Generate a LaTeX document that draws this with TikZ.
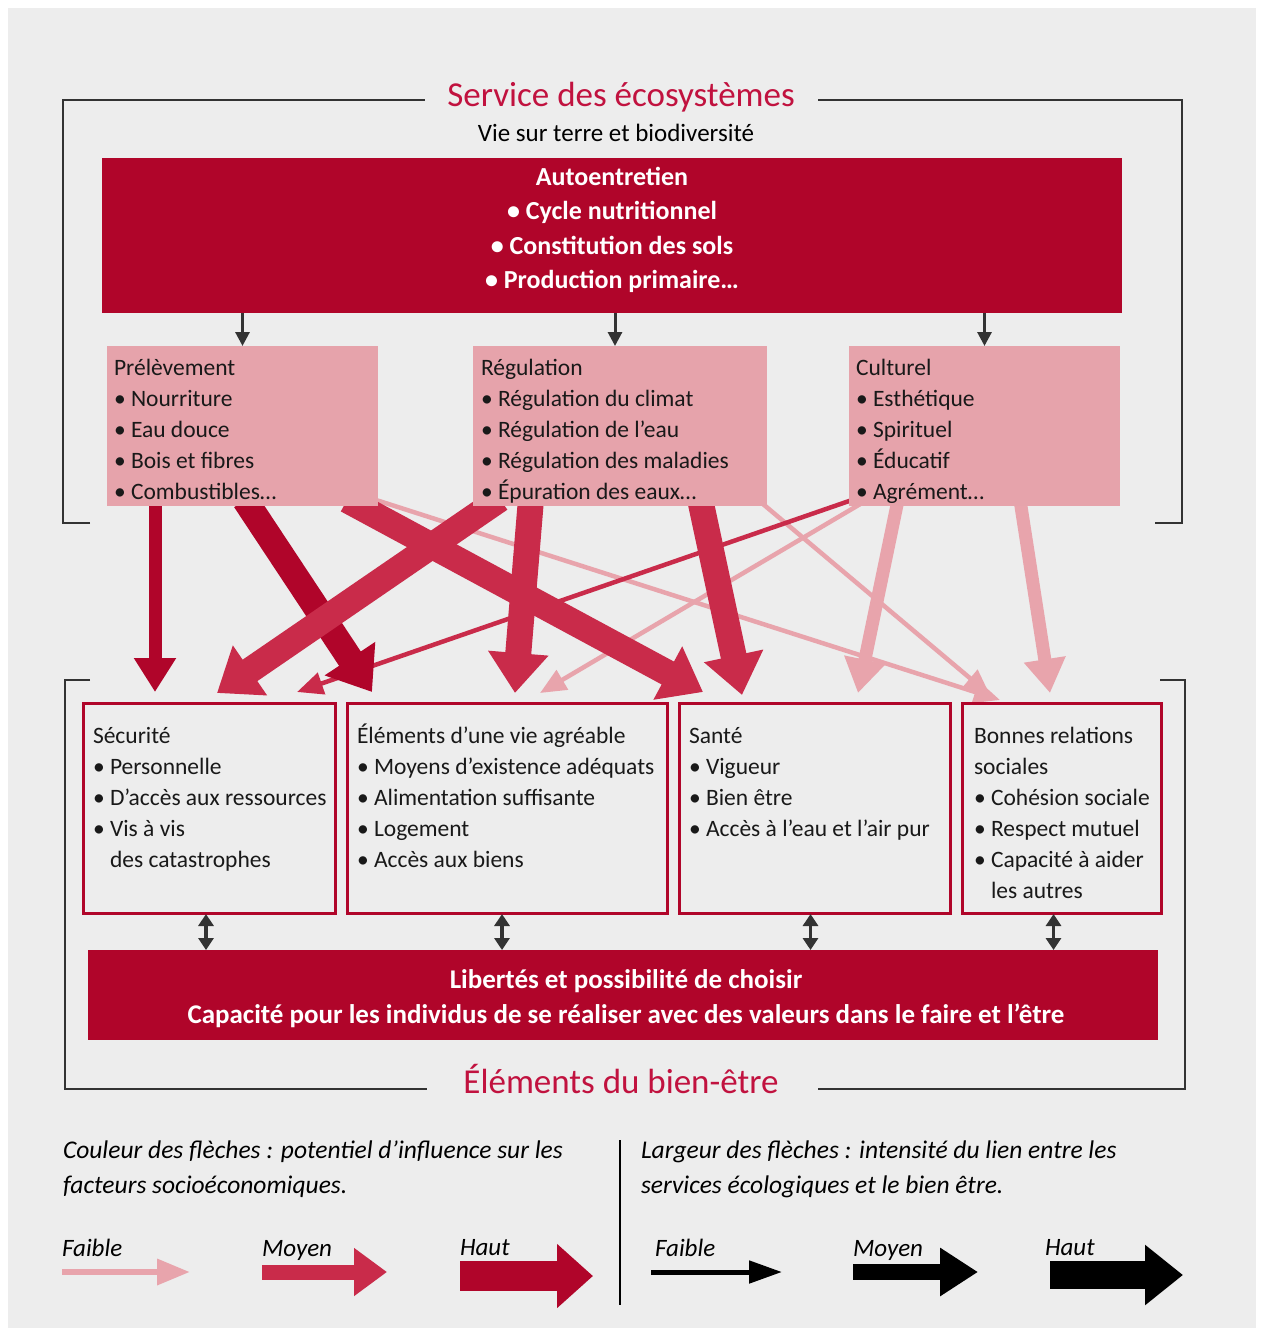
\documentclass[tikz,border=0pt]{standalone}
\usepackage{fontspec}
\setmainfont{Carlito}
\usetikzlibrary{arrows.meta,calc}
\pgfdeclarelayer{back}
\pgfdeclarelayer{arrowlayer}
\pgfsetlayers{back,arrowlayer,main}
\definecolor{bg}{HTML}{EDEDED}
\definecolor{hic}{HTML}{B0052A}
\definecolor{medc}{HTML}{C92B4A}
\definecolor{lowc}{HTML}{E8A4AC}
\definecolor{boxpink}{HTML}{E6A3AB}
\definecolor{titc}{HTML}{C1123F}
\definecolor{dgray}{HTML}{333333}
\begin{document}
\begin{tikzpicture}[x=1pt,y=-1pt,
  every node/.style={inner sep=0pt,outer sep=0pt},
  pinkbox/.style={fill=boxpink,minimum width=#1,minimum height=160pt,anchor=north west},
  redbox/.style={fill=hic,anchor=north west},
  wellbox/.style={draw=hic,line width=3pt,fill=bg,minimum width=#1,minimum height=210pt,anchor=north west},
  boxtxt/.style={font=\fontsize{23.5}{31}\selectfont,align=left,anchor=base west,text=black!90},
  whitetxt/.style={font=\bfseries\fontsize{26}{34.5}\selectfont,align=center,anchor=base,text=white},
  titletxt/.style={font=\fontsize{35}{40}\selectfont,text=titc,anchor=base},
  legtxt/.style={font=\itshape\fontsize{25.5}{35}\selectfont,align=left,anchor=base west},
  leglab/.style={font=\itshape\fontsize{25}{30}\selectfont,anchor=base west},
  frame/.style={draw=dgray,line width=2.3pt},
  lowW/.style={line width=4.5pt,-{Triangle[width=22pt,length=26pt]}},
  midW/.style={line width=13pt,-{Triangle[width=40pt,length=34pt]}},
  highW/.style={line width=26pt,-{Triangle[width=58pt,length=40pt]}},
  darr/.style={draw=dgray,line width=3pt,-{Triangle[width=14pt,length=14pt]}},
  dbl/.style={draw=dgray,line width=3.5pt,{Triangle[width=15pt,length=12pt]}-{Triangle[width=15pt,length=12pt]}}
]
\useasboundingbox (0,0) rectangle (1261,1333);
\begin{pgfonlayer}{back}
\fill[white] (0,0) rectangle (1261,1333);
\fill[bg] (8,8) rectangle (1256,1328);
\end{pgfonlayer}

% ---------- top frame ----------
\node[titletxt] (ttop) at (621,106) {Service des écosystèmes};
\draw[frame] (90,523) -- (63,523) -- (63,100) -- (425,100);
\draw[frame] (818,100) -- (1182,100) -- (1182,523) -- (1155,523);
\node[font=\fontsize{25}{30}\selectfont,anchor=base] (sub) at (616,141) {Vie sur terre et biodiversité};

% ---------- autoentretien ----------
\node[redbox,minimum width=1020pt,minimum height=155pt] (auto) at (102,158) {};
\node[whitetxt] (autot) at (612,288.5) {Autoentretien\\• Cycle nutritionnel\\• Constitution des sols\\• Production primaire…};

% ---------- services ----------
\node[pinkbox=271pt] (prel) at (107,346) {};
\node[pinkbox=294pt] (regu) at (473,346) {};
\node[pinkbox=271pt] (cult) at (849,346) {};
\node[boxtxt] (prelt) at (114,499) {Prélèvement\\• Nourriture\\• Eau douce\\• Bois et fibres\\• Combustibles…};
\node[boxtxt] (regut) at (481,499) {Régulation\\• Régulation du climat\\• Régulation de l'eau\\• Régulation des maladies\\• Épuration des eaux…};
\node[boxtxt] (cultt) at (856,499) {Culturel\\• Esthétique\\• Spirituel\\• Éducatif\\• Agrément…};

\draw[darr] (prel.north |- auto.south) -- (prel.north);
\draw[darr] ($(regu.north |- auto.south)+(-5,0)$) -- ($(regu.north)+(-5,0)$);
\draw[darr] (cult.north |- auto.south) -- (cult.north);

% ---------- bottom frame ----------
\draw[frame] (90,680) -- (65,680) -- (65,1089) -- (427,1089);
\draw[frame] (818,1089) -- (1185,1089) -- (1185,680) -- (1160,680);
\node[titletxt] (tbot) at (621,1093) {Éléments du bien-être};

% ---------- well-being ----------
\node[wellbox=252pt] (secu) at (83,703) {};
\node[wellbox=320pt] (elem) at (347,703) {};
\node[wellbox=271pt] (sante) at (679,703) {};
\node[wellbox=199pt] (bonnes) at (962,703) {};
\node[boxtxt] (secut) at (93,867) {Sécurité\\• Personnelle\\• D'accès aux ressources\\• Vis à vis\\\phantom{• }des catastrophes};
\node[boxtxt] (elemt) at (357,867) {Éléments d'une vie agréable\\• Moyens d'existence adéquats\\• Alimentation suffisante\\• Logement\\• Accès aux biens};
\node[boxtxt] (santet) at (689,836) {Santé\\• Vigueur\\• Bien être\\• Accès à l'eau et l'air pur};
\node[boxtxt] (bonnest) at (974,898) {Bonnes relations\\sociales\\• Cohésion sociale\\• Respect mutuel\\• Capacité à aider\\\phantom{• }les autres};

\node[redbox,minimum width=1070pt,minimum height=90pt] (lib) at (88,950) {};
\node[whitetxt,font=\bfseries\fontsize{27}{35}\selectfont] (libt) at (626,1023) {Libertés et possibilité de choisir\\Capacité pour les individus de se réaliser avec des valeurs dans le faire et l'être};

\draw[dbl] ($(secu.south)+(-3,1)$) -- ($(secu.south |- lib.north)+(-3,0)$);
\draw[dbl] ($(elem.south)+(-5,1)$) -- ($(elem.south |- lib.north)+(-5,0)$);
\draw[dbl] ($(sante.south)+(-4,1)$) -- ($(sante.south |- lib.north)+(-4,0)$);
\draw[dbl] ($(bonnes.south)+(-8,1)$) -- ($(bonnes.south |- lib.north)+(-8,0)$);

% ---------- links ----------
\begin{pgfonlayer}{arrowlayer}
% thin first
\draw[lowW,draw=lowc,fill=lowc] ($(prel.south east)+(-2,-6)$) -- ($(bonnes.north west)+(38,-3)$);
\draw[lowW,draw=lowc,fill=lowc] ($(regu.south west)+(284,-7)$) -- ($(bonnes.north west)+(28,-8)$);
\draw[lowW,draw=lowc,fill=lowc] ($(cult.south west)+(13,-3)$) -- ($(elem.north west)+(193,-10)$);
\draw[lowW,draw=medc,fill=medc] ($(cult.south west)+(3,-6)$) -- ($(secu.north west)+(214,-11)$);
% medium width
\draw[midW,draw=hic,fill=hic] ($(prel.south west)+(48,-6)$) -- ($(secu.north west)+(72,-11)$);
\draw[midW,draw=lowc,fill=lowc] ($(cult.south west)+(49,-6)$) -- ($(sante.north west)+(179,-10)$);
\draw[midW,draw=lowc,fill=lowc] ($(cult.south west)+(171,-6)$) -- ($(bonnes.north west)+(88,-10)$);
% high width
\draw[highW,draw=hic,fill=hic] ($(prel.south west)+(138,-6)$) -- ($(elem.north west)+(25,-11)$);
\draw[highW,draw=medc,fill=medc] ($(regu.south west)+(27,-7)$) -- ($(secu.north west)+(134,-10)$);
\draw[highW,draw=medc,fill=medc] ($(prel.south west)+(240,-6)$) -- ($(sante.north west)+(24,-11)$);
\draw[highW,draw=medc,fill=medc] ($(regu.south west)+(58,-7)$) -- ($(elem.north west)+(168,-10)$);
\draw[highW,draw=medc,fill=medc] ($(regu.south west)+(227,-7)$) -- ($(sante.north west)+(63,-8)$);
\end{pgfonlayer}

% ---------- legend ----------
\node[legtxt] (leg1) at (63,1193) {Couleur des flèches : potentiel d'influence sur les\\facteurs socioéconomiques.};
\node[legtxt] (leg2) at (641,1193) {Largeur des flèches : intensité du lien entre les\\services écologiques et le bien être.};
\draw[black,line width=1.5pt] (620,1140) -- (620,1305);

\node[leglab] (lf) at (62,1256) {Faible};
\node[leglab] (lm) at (262,1256) {Moyen};
\node[leglab] (lh) at (460,1255) {Haut};
\node[leglab] (bf) at (655,1256) {Faible};
\node[leglab] (bm) at (853,1256) {Moyen};
\node[leglab] (bh) at (1045,1255) {Haut};

\coordinate (lfa) at (62,1272);   \coordinate (lfb) at (190,1272);
\coordinate (lma) at (262,1272);  \coordinate (lmb) at (387,1272);
\coordinate (lha) at (460,1276);  \coordinate (lhb) at (593,1276);
\coordinate (bfa) at (651,1272);  \coordinate (bfb) at (782,1272);
\coordinate (bma) at (853,1272);  \coordinate (bmb) at (978,1272);
\coordinate (bha) at (1050,1275); \coordinate (bhb) at (1183,1275);
\draw[lowc,fill=lowc,line width=6.5pt,-{Triangle[width=25pt,length=33pt]}] (lfa) -- (lfb);
\draw[medc,fill=medc,line width=15pt,-{Triangle[width=46pt,length=33pt]}] (lma) -- (lmb);
\draw[hic,fill=hic,line width=30pt,-{Triangle[width=62pt,length=36pt]}] (lha) -- (lhb);
\draw[black,fill=black,line width=5pt,-{Triangle[width=22pt,length=33pt]}] (bfa) -- (bfb);
\draw[black,fill=black,line width=16pt,-{Triangle[width=46pt,length=38pt]}] (bma) -- (bmb);
\draw[black,fill=black,line width=28pt,-{Triangle[width=58pt,length=38pt]}] (bha) -- (bhb);
\end{tikzpicture}
\end{document}
